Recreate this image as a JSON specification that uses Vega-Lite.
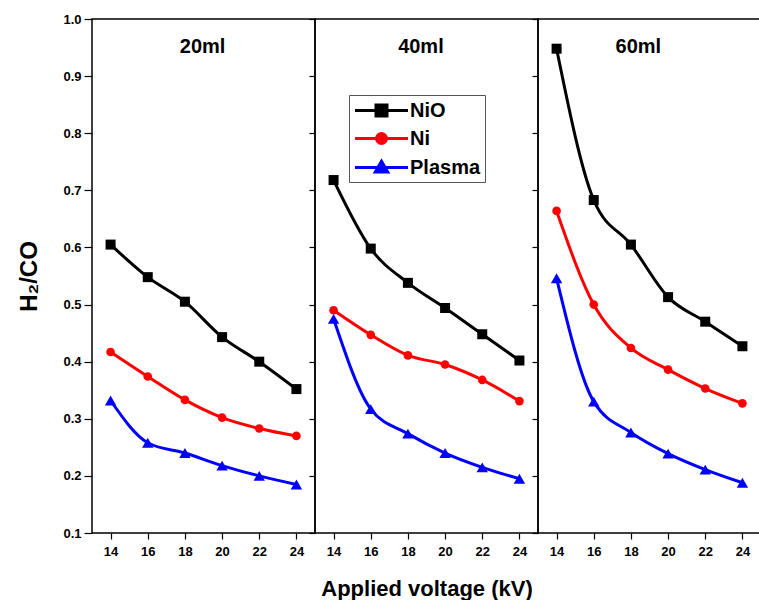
{
  "$schema": "https://vega.github.io/schema/vega-lite/v6.json",
  "padding": {"left": 17, "top": 12, "right": 0, "bottom": 0},
  "background": "white",
  "bounds": "flush",
  "config": {
    "font": "Liberation Sans",
    "view": {"stroke": "black", "strokeWidth": 1.5},
    "concat": {"spacing": 0},
    "axis": {
      "grid": false,
      "domain": false,
      "tickColor": "black",
      "tickWidth": 1.2,
      "labelColor": "black",
      "labelFont": "Liberation Sans",
      "labelFontWeight": "bold",
      "labelFontSize": 13,
      "titleFont": "Liberation Sans",
      "titleFontWeight": "bold",
      "titleFontSize": 22,
      "titleColor": "black"
    }
  },
  "datasets": {
    "d": [
      {"vol": "20ml", "kv": 14, "ratio": 0.605, "material": "NiO"},
      {"vol": "20ml", "kv": 16, "ratio": 0.548, "material": "NiO"},
      {"vol": "20ml", "kv": 18, "ratio": 0.505, "material": "NiO"},
      {"vol": "20ml", "kv": 20, "ratio": 0.443, "material": "NiO"},
      {"vol": "20ml", "kv": 22, "ratio": 0.400, "material": "NiO"},
      {"vol": "20ml", "kv": 24, "ratio": 0.352, "material": "NiO"},
      {"vol": "20ml", "kv": 14, "ratio": 0.417, "material": "Ni"},
      {"vol": "20ml", "kv": 16, "ratio": 0.374, "material": "Ni"},
      {"vol": "20ml", "kv": 18, "ratio": 0.333, "material": "Ni"},
      {"vol": "20ml", "kv": 20, "ratio": 0.302, "material": "Ni"},
      {"vol": "20ml", "kv": 22, "ratio": 0.283, "material": "Ni"},
      {"vol": "20ml", "kv": 24, "ratio": 0.270, "material": "Ni"},
      {"vol": "20ml", "kv": 14, "ratio": 0.332, "material": "Plasma"},
      {"vol": "20ml", "kv": 16, "ratio": 0.258, "material": "Plasma"},
      {"vol": "20ml", "kv": 18, "ratio": 0.240, "material": "Plasma"},
      {"vol": "20ml", "kv": 20, "ratio": 0.218, "material": "Plasma"},
      {"vol": "20ml", "kv": 22, "ratio": 0.200, "material": "Plasma"},
      {"vol": "20ml", "kv": 24, "ratio": 0.185, "material": "Plasma"},
      {"vol": "40ml", "kv": 14, "ratio": 0.718, "material": "NiO"},
      {"vol": "40ml", "kv": 16, "ratio": 0.598, "material": "NiO"},
      {"vol": "40ml", "kv": 18, "ratio": 0.538, "material": "NiO"},
      {"vol": "40ml", "kv": 20, "ratio": 0.494, "material": "NiO"},
      {"vol": "40ml", "kv": 22, "ratio": 0.448, "material": "NiO"},
      {"vol": "40ml", "kv": 24, "ratio": 0.402, "material": "NiO"},
      {"vol": "40ml", "kv": 14, "ratio": 0.490, "material": "Ni"},
      {"vol": "40ml", "kv": 16, "ratio": 0.447, "material": "Ni"},
      {"vol": "40ml", "kv": 18, "ratio": 0.411, "material": "Ni"},
      {"vol": "40ml", "kv": 20, "ratio": 0.395, "material": "Ni"},
      {"vol": "40ml", "kv": 22, "ratio": 0.368, "material": "Ni"},
      {"vol": "40ml", "kv": 24, "ratio": 0.331, "material": "Ni"},
      {"vol": "40ml", "kv": 14, "ratio": 0.475, "material": "Plasma"},
      {"vol": "40ml", "kv": 16, "ratio": 0.317, "material": "Plasma"},
      {"vol": "40ml", "kv": 18, "ratio": 0.274, "material": "Plasma"},
      {"vol": "40ml", "kv": 20, "ratio": 0.240, "material": "Plasma"},
      {"vol": "40ml", "kv": 22, "ratio": 0.215, "material": "Plasma"},
      {"vol": "40ml", "kv": 24, "ratio": 0.195, "material": "Plasma"},
      {"vol": "60ml", "kv": 14, "ratio": 0.948, "material": "NiO"},
      {"vol": "60ml", "kv": 16, "ratio": 0.683, "material": "NiO"},
      {"vol": "60ml", "kv": 18, "ratio": 0.605, "material": "NiO"},
      {"vol": "60ml", "kv": 20, "ratio": 0.513, "material": "NiO"},
      {"vol": "60ml", "kv": 22, "ratio": 0.470, "material": "NiO"},
      {"vol": "60ml", "kv": 24, "ratio": 0.427, "material": "NiO"},
      {"vol": "60ml", "kv": 14, "ratio": 0.664, "material": "Ni"},
      {"vol": "60ml", "kv": 16, "ratio": 0.500, "material": "Ni"},
      {"vol": "60ml", "kv": 18, "ratio": 0.424, "material": "Ni"},
      {"vol": "60ml", "kv": 20, "ratio": 0.386, "material": "Ni"},
      {"vol": "60ml", "kv": 22, "ratio": 0.353, "material": "Ni"},
      {"vol": "60ml", "kv": 24, "ratio": 0.327, "material": "Ni"},
      {"vol": "60ml", "kv": 14, "ratio": 0.546, "material": "Plasma"},
      {"vol": "60ml", "kv": 16, "ratio": 0.330, "material": "Plasma"},
      {"vol": "60ml", "kv": 18, "ratio": 0.276, "material": "Plasma"},
      {"vol": "60ml", "kv": 20, "ratio": 0.239, "material": "Plasma"},
      {"vol": "60ml", "kv": 22, "ratio": 0.211, "material": "Plasma"},
      {"vol": "60ml", "kv": 24, "ratio": 0.188, "material": "Plasma"}
    ]
  },
  "resolve": {"scale": {"color": "shared"}, "legend": {"color": "independent", "shape": "independent"}},
  "hconcat": [
    {
      "width": 223, "height": 514,
      "layer": [
        {
          "data": {"name": "d"},
          "transform": [{"filter": "datum.vol == '20ml'"}],
          "mark": {"type": "line", "interpolate": "monotone", "strokeWidth": 3},
          "encoding": {
            "x": {"field": "kv", "type": "quantitative", "scale": {"domain": [13, 25], "nice": false}, "axis": {"values": [14, 16, 18, 20, 22, 24], "title": null, "tickSize": 6, "labelPadding": 6}},
            "y": {"field": "ratio", "type": "quantitative", "scale": {"domain": [0.1, 1.0], "nice": false, "zero": false}, "axis": {"values": [0.1,0.2,0.3,0.4,0.5,0.6,0.7,0.8,0.9,1.0], "format": ".1f", "title": "H₂/CO", "titleFontSize": 24, "tickSize": 8, "labelPadding": 3, "titlePadding": 21}},
            "color": {"field": "material", "type": "nominal", "scale": {"domain": ["NiO", "Ni", "Plasma"], "range": ["#000000", "#ff0000", "#0000ff"]}, "legend": null}
          }
        },
        {
          "data": {"name": "d"},
          "transform": [{"filter": "datum.vol == '20ml' && datum.material == 'NiO'"}],
          "mark": {"type": "point", "filled": true, "opacity": 1, "shape": "square", "size": 100, "color": "#000000"},
          "encoding": {"x": {"field": "kv", "type": "quantitative"}, "y": {"field": "ratio", "type": "quantitative"}}
        },
        {
          "data": {"name": "d"},
          "transform": [{"filter": "datum.vol == '20ml' && datum.material == 'Ni'"}],
          "mark": {"type": "point", "filled": true, "opacity": 1, "shape": "circle", "size": 75, "color": "#ff0000"},
          "encoding": {"x": {"field": "kv", "type": "quantitative"}, "y": {"field": "ratio", "type": "quantitative"}}
        },
        {
          "data": {"name": "d"},
          "transform": [{"filter": "datum.vol == '20ml' && datum.material == 'Plasma'"}],
          "mark": {"type": "point", "filled": true, "opacity": 1, "shape": "triangle-up", "size": 130, "color": "#0000ff"},
          "encoding": {"x": {"field": "kv", "type": "quantitative"}, "y": {"field": "ratio", "type": "quantitative"}}
        },
        {
          "data": {"values": [{"label": "20ml"}]},
          "mark": {"type": "text", "fontSize": 20, "fontWeight": "bold", "font": "Liberation Sans", "color": "black"},
          "encoding": {"x": {"datum": 18.95}, "y": {"datum": 0.951}, "text": {"field": "label"}}
        }
      ]
    },
    {
      "width": 223, "height": 514,
      "layer": [
        {
          "data": {"name": "d"},
          "transform": [{"filter": "datum.vol == '40ml' && datum.material == 'NiO'"}],
          "mark": {"type": "line", "interpolate": "monotone", "strokeWidth": 3, "color": "#000000"},
          "encoding": {
            "x": {"field": "kv", "type": "quantitative", "scale": {"domain": [13, 25], "nice": false}, "axis": {"values": [14, 16, 18, 20, 22, 24], "title": "Applied voltage (kV)", "tickSize": 6, "labelPadding": 6, "titlePadding": 20}},
            "y": {"field": "ratio", "type": "quantitative", "scale": {"domain": [0.1, 1.0], "nice": false, "zero": false}, "axis": {"values": [0.1,0.2,0.3,0.4,0.5,0.6,0.7,0.8,0.9,1.0], "labels": false, "title": null, "tickSize": 6}}
          }
        },
        {
          "data": {"name": "d"},
          "transform": [{"filter": "datum.vol == '40ml' && datum.material == 'Ni'"}],
          "mark": {"type": "line", "interpolate": "monotone", "strokeWidth": 3, "color": "#ff0000"},
          "encoding": {"x": {"field": "kv", "type": "quantitative"}, "y": {"field": "ratio", "type": "quantitative"}}
        },
        {
          "data": {"name": "d"},
          "transform": [{"filter": "datum.vol == '40ml' && datum.material == 'Plasma'"}],
          "mark": {"type": "line", "interpolate": "monotone", "strokeWidth": 3, "color": "#0000ff"},
          "encoding": {"x": {"field": "kv", "type": "quantitative"}, "y": {"field": "ratio", "type": "quantitative"}}
        },
        {
          "data": {"name": "d"},
          "transform": [{"filter": "datum.vol == '40ml' && datum.material == 'NiO'"}],
          "mark": {"type": "point", "filled": true, "opacity": 1, "shape": "square", "size": 100, "color": "#000000"},
          "encoding": {"x": {"field": "kv", "type": "quantitative"}, "y": {"field": "ratio", "type": "quantitative"}}
        },
        {
          "data": {"name": "d"},
          "transform": [{"filter": "datum.vol == '40ml' && datum.material == 'Ni'"}],
          "mark": {"type": "point", "filled": true, "opacity": 1, "shape": "circle", "size": 75, "color": "#ff0000"},
          "encoding": {"x": {"field": "kv", "type": "quantitative"}, "y": {"field": "ratio", "type": "quantitative"}}
        },
        {
          "data": {"name": "d"},
          "transform": [{"filter": "datum.vol == '40ml' && datum.material == 'Plasma'"}],
          "mark": {"type": "point", "filled": true, "opacity": 1, "shape": "triangle-up", "size": 130, "color": "#0000ff"},
          "encoding": {"x": {"field": "kv", "type": "quantitative"}, "y": {"field": "ratio", "type": "quantitative"}}
        },
        {
          "data": {"name": "d"},
          "transform": [{"filter": "datum.vol == '40ml'"}],
          "mark": {"type": "point", "filled": true, "opacity": 0, "size": 400},
          "encoding": {
            "x": {"field": "kv", "type": "quantitative"},
            "y": {"field": "ratio", "type": "quantitative"},
            "color": {"field": "material", "type": "nominal",
              "legend": {"orient": "none", "legendX": 34, "legendY": 76, "title": null, "labelFontSize": 20, "labelFontWeight": "bold", "labelFont": "Liberation Sans", "labelColor": "black", "labelOffset": 17, "symbolOffset": 17, "strokeColor": "#555", "fillColor": "white", "padding": 4, "rowPadding": 5, "symbolStrokeWidth": 3, "symbolSize": 400, "symbolOpacity": 1,
                "encode": {"symbols": {"update": {"stroke": {"scale": "color", "field": "value"}, "fill": {"scale": "color", "field": "value"}, "opacity": {"value": 1}, "strokeWidth": {"value": 3}}}}}},
            "shape": {"field": "material", "type": "nominal", "scale": {"domain": ["NiO", "Ni", "Plasma"], "range": ["M-2.65,0H2.65M-0.55,-0.55H0.55V0.55H-0.55Z", "M-2.65,0H2.65M-0.5,0A0.5,0.5 0 1,0 0.5,0A0.5,0.5 0 1,0 -0.5,0Z", "M-2.65,0H2.65M0,-0.62L0.62,0.45H-0.62Z"]},
              "legend": {"orient": "none", "legendX": 34, "legendY": 76, "title": null, "labelFontSize": 20, "labelFontWeight": "bold", "labelFont": "Liberation Sans", "labelColor": "black", "labelOffset": 17, "symbolOffset": 17, "strokeColor": "#555", "fillColor": "white", "padding": 4, "rowPadding": 5, "symbolStrokeWidth": 3, "symbolSize": 400, "symbolOpacity": 1,
                "encode": {"symbols": {"update": {"stroke": {"scale": "color", "field": "value"}, "fill": {"scale": "color", "field": "value"}, "opacity": {"value": 1}, "strokeWidth": {"value": 3}}}}}}
          }
        },
        {
          "data": {"values": [{"label": "40ml"}]},
          "mark": {"type": "text", "fontSize": 20, "fontWeight": "bold", "font": "Liberation Sans", "color": "black"},
          "encoding": {"x": {"datum": 18.7}, "y": {"datum": 0.951}, "text": {"field": "label"}}
        }
      ]
    },
    {
      "width": 223, "height": 514,
      "layer": [
        {
          "data": {"name": "d"},
          "transform": [{"filter": "datum.vol == '60ml'"}],
          "mark": {"type": "line", "interpolate": "monotone", "strokeWidth": 3},
          "encoding": {
            "x": {"field": "kv", "type": "quantitative", "scale": {"domain": [13, 25], "nice": false}, "axis": {"values": [14, 16, 18, 20, 22, 24], "title": null, "tickSize": 6, "labelPadding": 6}},
            "y": {"field": "ratio", "type": "quantitative", "scale": {"domain": [0.1, 1.0], "nice": false, "zero": false}, "axis": {"values": [0.1,0.2,0.3,0.4,0.5,0.6,0.7,0.8,0.9,1.0], "labels": false, "title": null, "tickSize": 6}},
            "color": {"field": "material", "type": "nominal", "legend": null}
          }
        },
        {
          "data": {"name": "d"},
          "transform": [{"filter": "datum.vol == '60ml' && datum.material == 'NiO'"}],
          "mark": {"type": "point", "filled": true, "opacity": 1, "shape": "square", "size": 100, "color": "#000000"},
          "encoding": {"x": {"field": "kv", "type": "quantitative"}, "y": {"field": "ratio", "type": "quantitative"}}
        },
        {
          "data": {"name": "d"},
          "transform": [{"filter": "datum.vol == '60ml' && datum.material == 'Ni'"}],
          "mark": {"type": "point", "filled": true, "opacity": 1, "shape": "circle", "size": 75, "color": "#ff0000"},
          "encoding": {"x": {"field": "kv", "type": "quantitative"}, "y": {"field": "ratio", "type": "quantitative"}}
        },
        {
          "data": {"name": "d"},
          "transform": [{"filter": "datum.vol == '60ml' && datum.material == 'Plasma'"}],
          "mark": {"type": "point", "filled": true, "opacity": 1, "shape": "triangle-up", "size": 130, "color": "#0000ff"},
          "encoding": {"x": {"field": "kv", "type": "quantitative"}, "y": {"field": "ratio", "type": "quantitative"}}
        },
        {
          "data": {"values": [{"label": "60ml"}]},
          "mark": {"type": "text", "fontSize": 20, "fontWeight": "bold", "font": "Liberation Sans", "color": "black"},
          "encoding": {"x": {"datum": 18.4}, "y": {"datum": 0.951}, "text": {"field": "label"}}
        }
      ]
    }
  ]
}
